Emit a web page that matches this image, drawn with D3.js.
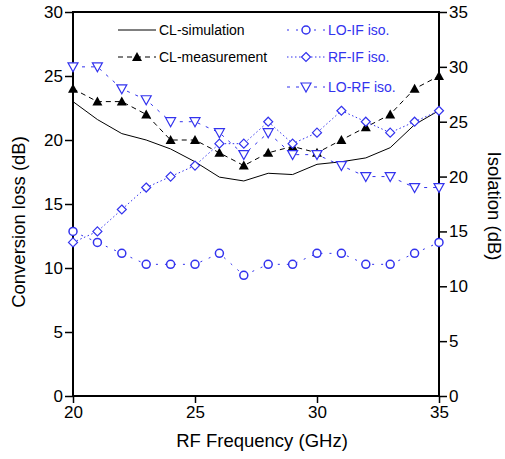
<!DOCTYPE html>
<html>
<head>
<meta charset="utf-8">
<script src="https://cdn.jsdelivr.net/npm/d3@7"></script>
<style>
  body { margin: 0; background: #fff; }
  text { font-family: "Liberation Sans", Arial, sans-serif; }
</style>
</head>
<body>
<svg width="505" height="459"></svg>
<script>
const freq = [20, 21, 22, 23, 24, 25, 26, 27, 28, 29, 30, 31, 32, 33, 34, 35];
const clSim = [23, 21.6, 20.5, 20, 19.3, 18.3, 17.1, 16.8, 17.4, 17.3, 18.1, 18.3, 18.6, 19.4, 21.2, 22.3];
const clMeas = [24, 23, 23, 22, 20, 20, 19, 18, 19, 19.5, 19, 20, 21, 22, 24, 25];
const loIf = [15, 14, 13, 12, 12, 12, 13, 11, 12, 12, 13, 13, 12, 12, 13, 14];
const rfIf = [14, 15, 17, 19, 20, 21, 23, 23, 25, 23, 24, 26, 25, 24, 25, 26];
const loRf = [30, 30, 28, 27, 25, 25, 24, 22, 24, 22, 22, 21, 20, 20, 19, 19];
const xTicks = [20, 25, 30, 35];
const leftTicks = [0, 5, 10, 15, 20, 25, 30];
const rightTicks = [0, 5, 10, 15, 20, 25, 30, 35];

const blue = "#3333ee";
const svg = d3.select("svg");
const pL = 73, pR = 439, pT = 12, pB = 396;

const x = d3.scaleLinear().domain([20, 35]).range([pL, pR]);
const yL = d3.scaleLinear().domain([0, 30]).range([pB, pT]);
const yR = d3.scaleLinear().domain([0, 35]).range([pB, pT]);

// frame
svg.append("rect")
  .attr("x", pL).attr("y", pT)
  .attr("width", pR - pL).attr("height", pB - pT)
  .attr("fill", "none").attr("stroke", "#000").attr("stroke-width", 2);

const fmt = d3.format("d");
const styleAxis = g => {
  g.select(".domain").remove();
  g.selectAll(".tick line").attr("stroke", "#000").attr("stroke-width", 1.5);
  g.selectAll(".tick text").attr("fill", "#000").style("font-size", "17px")
    .style("font-family", "'Liberation Sans', Arial, sans-serif");
};

svg.append("g").attr("transform", `translate(0,${pB})`)
  .call(d3.axisBottom(x).tickValues(xTicks).tickFormat(fmt).tickSize(7).tickPadding(3))
  .call(styleAxis);
svg.append("g").attr("transform", `translate(${pL},0)`)
  .call(d3.axisLeft(yL).tickValues(leftTicks).tickFormat(fmt).tickSize(8).tickPadding(2))
  .call(styleAxis);
svg.append("g").attr("transform", `translate(${pR},0)`)
  .call(d3.axisRight(yR).tickValues(rightTicks).tickFormat(fmt).tickSize(8).tickPadding(2))
  .call(styleAxis);

// axis titles
svg.append("text").attr("x", (pL + pR) / 2 + 6).attr("y", 447)
  .attr("text-anchor", "middle").style("font-size", "18.5px").text("RF Frequency (GHz)");
svg.append("text").attr("transform", `translate(25,${(pT + pB) / 2 + 18}) rotate(-90)`)
  .attr("text-anchor", "middle").style("font-size", "18.5px").text("Conversion loss (dB)");
svg.append("text").attr("transform", `translate(488,${(pT + pB) / 2 + 2}) rotate(90)`)
  .attr("text-anchor", "middle").style("font-size", "18.5px").text("Isolation (dB)");

const series = [
  { name: "CL-simulation", vals: clSim, y: yL, color: "#000", dash: null, marker: null },
  { name: "CL-measurement", vals: clMeas, y: yL, color: "#000", dash: "5,4", marker: "tri" },
  { name: "LO-IF iso.", vals: loIf, y: yR, color: blue, dash: "2,7", marker: "circle" },
  { name: "RF-IF iso.", vals: rfIf, y: yR, color: blue, dash: "1.5,2.5", marker: "diamond" },
  { name: "LO-RF iso.", vals: loRf, y: yR, color: blue, dash: "3,6", marker: "down" }
];

const drawMarker = (g, type, cx, cy, color) => {
  if (type === "circle") {
    g.append("circle").attr("cx", cx).attr("cy", cy).attr("r", 4)
      .attr("fill", "#fff").attr("stroke", color).attr("stroke-width", 1.5);
  } else if (type === "tri") {
    g.append("path").attr("d", `M${cx},${cy - 5}L${cx + 5},${cy + 4}L${cx - 5},${cy + 4}Z`)
      .attr("fill", "#000");
  } else if (type === "down") {
    g.append("path").attr("d", `M${cx - 5},${cy - 4}L${cx + 5},${cy - 4}L${cx},${cy + 5}Z`)
      .attr("fill", "#fff").attr("stroke", color).attr("stroke-width", 1.2);
  } else if (type === "diamond") {
    g.append("path").attr("d", `M${cx},${cy - 4.5}L${cx + 4.5},${cy}L${cx},${cy + 4.5}L${cx - 4.5},${cy}Z`)
      .attr("fill", "#fff").attr("stroke", color).attr("stroke-width", 1.2);
  }
};

const plot = svg.append("g");
series.forEach(s => {
  const line = d3.line().x((d, i) => x(freq[i])).y(d => s.y(d));
  plot.append("path").datum(s.vals).attr("d", line)
    .attr("fill", "none").attr("stroke", s.color).attr("stroke-width", 1)
    .attr("stroke-dasharray", s.dash);
});
series.forEach(s => {
  if (!s.marker) return;
  const g = plot.append("g");
  s.vals.forEach((v, i) => drawMarker(g, s.marker, x(freq[i]), s.y(v), s.color));
});

// legend
const legendPos = [
  [118, 30], [118, 57], [287, 30], [287, 57], [287, 87]
];
series.forEach((s, i) => {
  const [lx, ly] = legendPos[i];
  const g = svg.append("g");
  g.append("line").attr("x1", lx).attr("x2", lx + 38).attr("y1", ly).attr("y2", ly)
    .attr("stroke", s.color).attr("stroke-width", 1).attr("stroke-dasharray", s.dash);
  if (s.marker) drawMarker(g, s.marker, lx + 19, ly, s.color);
  g.append("text").attr("x", lx + 41).attr("y", ly + 5)
    .attr("fill", s.color === "#000" ? "#000" : blue)
    .style("font-size", "14px").text(s.name);
});
</script>
</body>
</html>
